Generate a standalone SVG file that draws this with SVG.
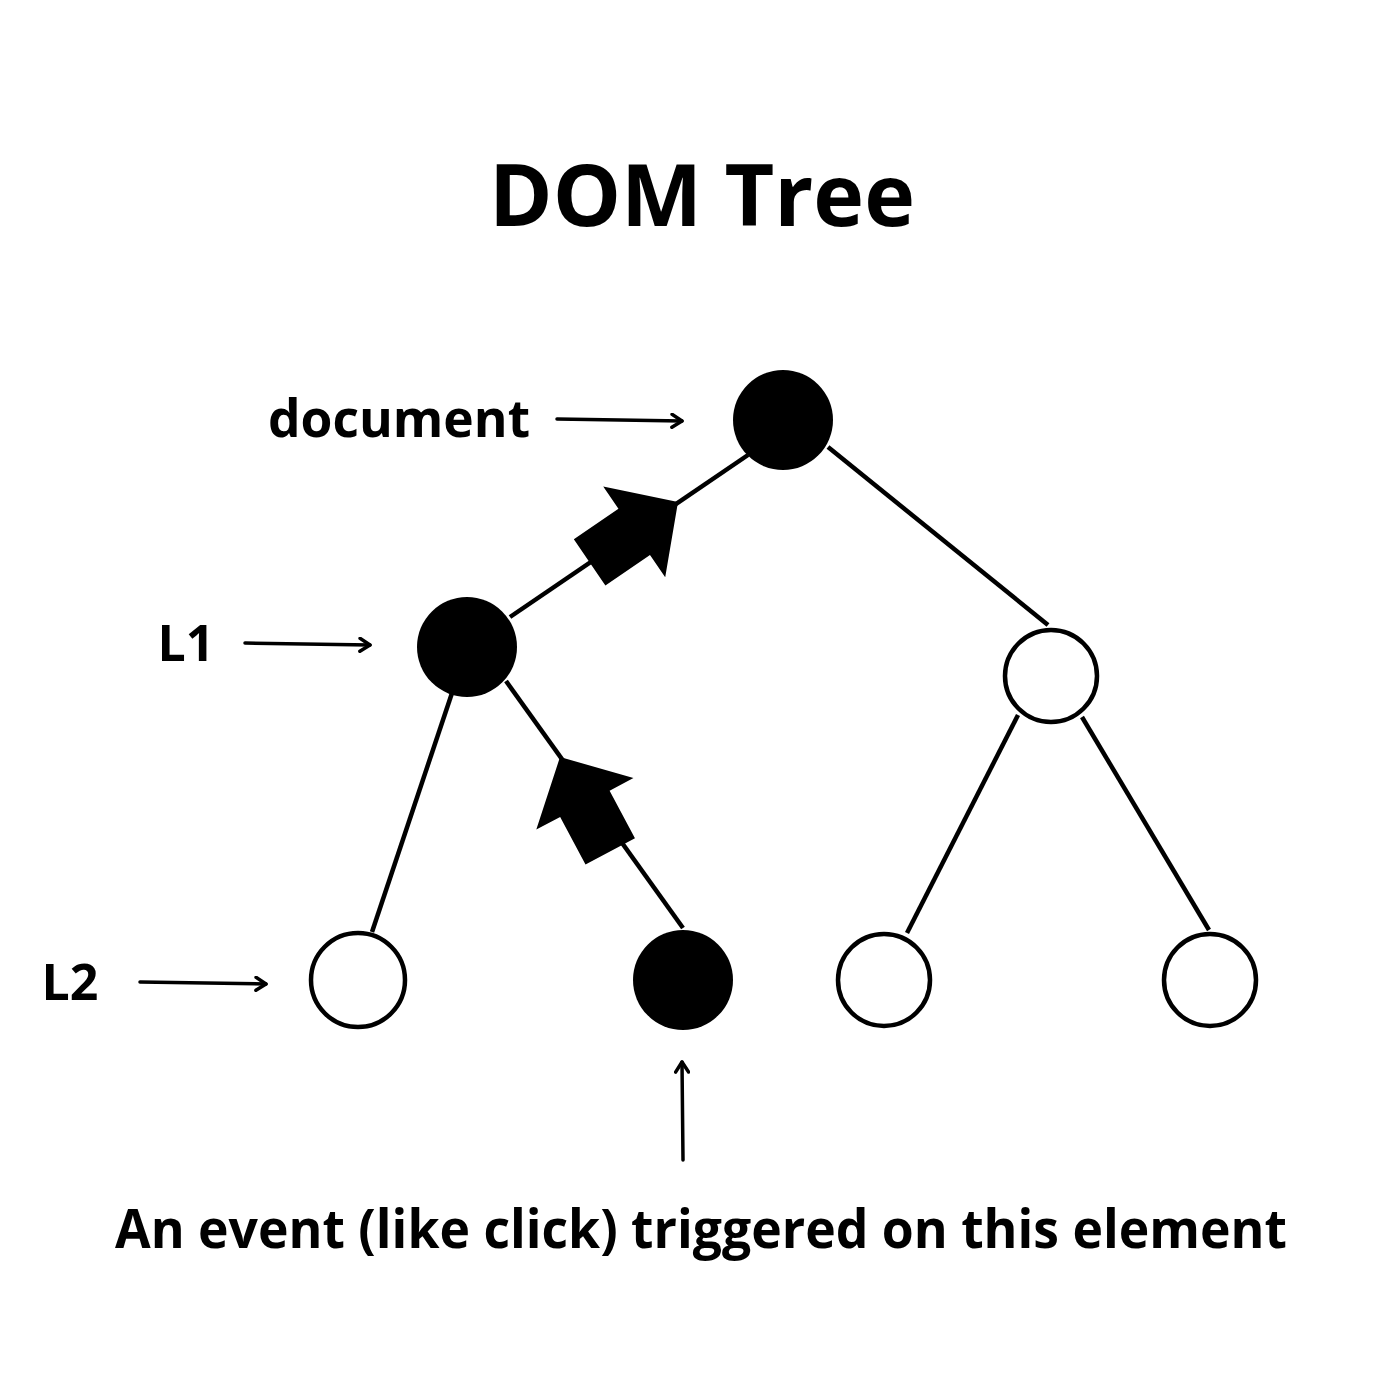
<svg xmlns="http://www.w3.org/2000/svg" width="1400" height="1400" viewBox="0 0 1400 1400">
  <defs>
    <style>
      .lbl { font-family: "Open Sans", "Noto Sans", "Liberation Sans", sans-serif; font-weight: 700; fill: #000; }
      .cap { font-family: "Open Sans", "Noto Sans", sans-serif; font-weight: 700; fill: #000; }
      .edge { stroke: #000; stroke-width: 4.5; fill: none; stroke-linecap: butt; }
      .ptr { stroke: #000; stroke-width: 3.5; fill: none; stroke-linecap: round; }
      .open { fill: #fff; stroke: #000; stroke-width: 4.5; }
      .full { fill: #000; stroke: none; }
      .block { fill: #000; }
    </style>
    <marker id="chev" viewBox="0 0 14 16" refX="12" refY="8" markerWidth="14" markerHeight="16" markerUnits="userSpaceOnUse" orient="auto">
      <path d="M2,1.5 L12,8 L2,14.5" fill="none" stroke="#000" stroke-width="3.5" stroke-linecap="round" stroke-linejoin="round"/>
    </marker>
    <polygon id="bigArrow" points="0,0 -53,-55 -53,-28 -107,-28 -107,28 -53,28 -53,55"/>
  </defs>
  <rect width="1400" height="1400" fill="#fff"/>

  <text class="lbl" x="702" y="226" font-size="86" text-anchor="middle">DOM Tree</text>

  <g id="connectors">
    <line class="edge" x1="748" y1="455" x2="510" y2="617"/>
    <line class="edge" x1="828" y1="447" x2="1048" y2="625"/>
    <line class="edge" x1="452" y1="693" x2="372" y2="932"/>
    <line class="edge" x1="506" y1="681" x2="683" y2="928"/>
    <line class="edge" x1="1018" y1="715" x2="907" y2="933"/>
    <line class="edge" x1="1082" y1="717" x2="1209" y2="930"/>
    <use href="#bigArrow" class="block" transform="translate(678,502) rotate(-34.3)"/>
    <use href="#bigArrow" class="block" transform="translate(560,757) rotate(-118)"/>
    <line class="ptr" x1="557" y1="419" x2="682" y2="421" marker-end="url(#chev)"/>
    <line class="ptr" x1="245" y1="643" x2="370" y2="645" marker-end="url(#chev)"/>
    <line class="ptr" x1="140" y1="982" x2="266" y2="984" marker-end="url(#chev)"/>
    <line class="ptr" x1="683" y1="1160" x2="682" y2="1062" marker-end="url(#chev)"/>
  </g>

  <g id="node-document">
    <circle class="full" cx="783" cy="420" r="50"/>
    <text class="lbl" x="399" y="437" font-size="51.5" text-anchor="middle">document</text>
  </g>
  <g id="node-L1">
    <circle class="full" cx="467" cy="647" r="50"/>
    <text class="lbl" x="186" y="661" font-size="50" text-anchor="middle">L1</text>
  </g>
  <g id="node-R1">
    <circle class="open" cx="1051" cy="676" r="46"/>
  </g>
  <g id="node-L2a">
    <circle class="open" cx="358" cy="980" r="47"/>
    <text class="lbl" x="70" y="1000" font-size="50" text-anchor="middle">L2</text>
  </g>
  <g id="node-L2b">
    <circle class="full" cx="683" cy="980" r="50"/>
    <text class="cap" x="115" y="1248" font-size="54" textLength="1172" lengthAdjust="spacingAndGlyphs">An event (like click) triggered on this element</text>
  </g>
  <g id="node-L2c">
    <circle class="open" cx="884" cy="980" r="46"/>
  </g>
  <g id="node-L2d">
    <circle class="open" cx="1210" cy="980" r="46"/>
  </g>
</svg>
